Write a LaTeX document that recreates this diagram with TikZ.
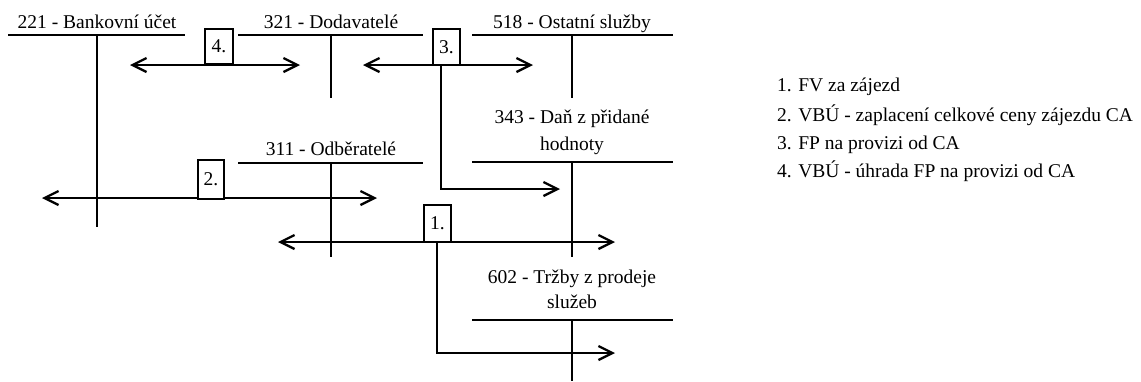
\documentclass[tikz,border=0pt]{standalone}
\usepackage{fontspec}
\setmainfont{Liberation Serif}
\usetikzlibrary{arrows.meta}
\begin{document}
\begin{tikzpicture}[x=1pt,y=-1pt,
  every node/.style={font=\fontsize{19.5}{24}\selectfont, inner sep=0pt},
  tline/.style={line width=2.3pt},
  tip/.tip={Straight Barb[length=14pt,width=14pt]},
  flow/.style={line width=2.3pt},
  numbox/.style={draw, line width=1.2pt, fill=white, minimum width=27pt, minimum height=36pt, inner sep=0pt},
  acct/.style={anchor=base},
  legend/.style={anchor=base west}
]
\useasboundingbox (0,0) rectangle (1141,381);

% T-accounts
\draw[tline] (8,35) -- (185,35) (97,35) -- (97,227);
\node[acct] (l221) at (97,28) {221 - Bankovní účet};
\draw[tline] (238,35) -- (423,35) (331,35) -- (331,98);
\node[acct] (l321) at (331,28) {321 - Dodavatelé};
\draw[tline] (472,35) -- (673,35) (572,35) -- (572,98);
\node[acct] (l518) at (572,28) {518 - Ostatní služby};
\draw[tline] (472,162) -- (673,162) (572,162) -- (572,257);
\node[acct] (l343a) at (572,123) {343 - Daň z přidané};
\node[acct] (l343b) at (572,150) {hodnoty};
\draw[tline] (238,163) -- (423,163) (331,163) -- (331,257);
\node[acct] (l311) at (331,155) {311 - Odběratelé};
\draw[tline] (472,320) -- (673,320) (572,320) -- (572,381);
\node[acct] (l602a) at (572,283) {602 - Tržby z prodeje};
\node[acct] (l602b) at (572,308) {služeb};

% arrow end points
\coordinate (a4l) at (130,65);  \coordinate (a4r) at (300,65);
\coordinate (a3l) at (363,65);  \coordinate (a3r) at (533,65);
\coordinate (a3j) at (441,65);  \coordinate (a3e) at (560,189);
\coordinate (a2l) at (42,198);  \coordinate (a2r) at (377,198);
\coordinate (a1l) at (278,242); \coordinate (a1r) at (615,242);
\coordinate (a1j) at (437,242); \coordinate (a1e) at (615,353);

% connectors
\draw[flow, tip-tip] (a4l) -- (a4r);
\draw[flow, tip-tip] (a3l) -- (a3r);
\draw[flow, -tip] (a3j) |- (a3e);
\draw[flow, tip-tip] (a2l) -- (a2r);
\draw[flow, tip-tip] (a1l) -- (a1r);
\draw[flow, -tip] (a1j) |- (a1e);

% number boxes
\node[numbox, minimum width=28pt, minimum height=35pt] (b4) at (219,46.5) {4.};
\node[numbox, minimum height=36pt] (b3) at (446.5,47) {3.};
\node[numbox, minimum width=26pt, minimum height=39pt] (b2) at (211,179.5) {2.};
\node[numbox, minimum height=37pt] (b1) at (437.5,223.5) {1.};

% legend
\node[legend] (g1) at (777,91) {1. FV za zájezd};
\node[legend] (g2) at (777,121) {2. VBÚ - zaplacení celkové ceny zájezdu CA};
\node[legend] (g3) at (777,149) {3. FP na provizi od CA};
\node[legend] (g4) at (777,177) {4. VBÚ - úhrada FP na provizi od CA};
\end{tikzpicture}
\end{document}
